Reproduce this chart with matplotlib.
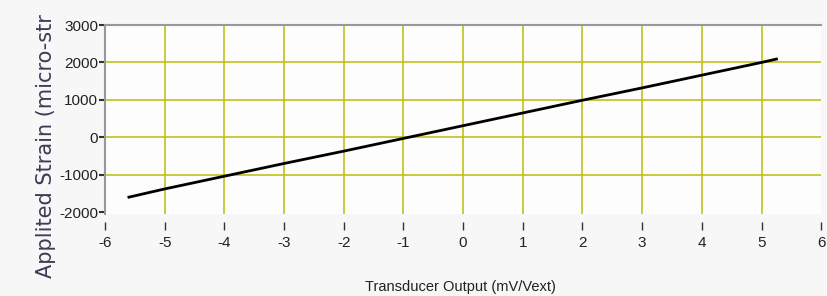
import matplotlib
matplotlib.use("Agg")
from matplotlib import pyplot as plt

# transducer output (mV/Vext) vs applied strain
xv = [-5.6, -5, -4, -3, -2, -1, 0, 1, 2, 3, 4, 5, 5.25]
yv = [-1600, -1380, -1040, -700, -370, -30, 310, 650, 990, 1320, 1660, 2000, 2090]

x_ticks = [-6, -5, -4, -3, -2, -1, 0, 1, 2, 3, 4, 5, 6]
y_ticks = [-2000, -1000, 0, 1000, 2000, 3000]

plt.rcParams["axes.unicode_minus"] = False
narrow = "Liberation Sans"

fig = plt.figure(figsize=(8.27, 2.96), dpi=100)
fig.patch.set_facecolor("#f7f7f7")
ax = fig.add_axes([0.127, 0.277, 0.866, 0.6385])
ax.set_facecolor("#fdfdfd")

grid_col = "#c2c21a"
for x in x_ticks[1:-1]:
    ax.axvline(x, color=grid_col, lw=1.2, zorder=1)
for y in y_ticks[1:-1]:
    ax.axhline(y, color=grid_col, lw=1.2, zorder=1)

ax.plot(xv, yv, color="black", lw=2, zorder=3)

ax.set_xlim(-6, 6)
ax.set_ylim(-2050, 3000)
ax.set_xticks(x_ticks)
ax.set_yticks(y_ticks)

for s in ["right", "bottom"]:
    ax.spines[s].set_visible(False)
for s in ["left", "top"]:
    ax.spines[s].set_color("#999999")
    ax.spines[s].set_linewidth(1.5)
ax.spines["bottom"].set_position(("outward", 6))

ax.tick_params(axis="x", direction="out", length=6, width=1, color="#333333", pad=4)
ax.tick_params(axis="y", direction="out", length=4, width=1.5, color="#333333", pad=1)
for lab in ax.get_xticklabels() + ax.get_yticklabels():
    lab.set_fontfamily(narrow)
    lab.set_fontsize(11)
    lab.set_color("#222222")

fig.text(460 / 827, 1 - 287 / 296, "Transducer Output (mV/Vext)", ha="center", va="center",
         fontsize=10.5, family=narrow, color="#222222")
fig.text(46 / 827, 1 - 278 / 296, "Applited Strain (micro-str", rotation=90,
         ha="center", va="bottom", fontsize=15, color="#3a3d55")

fig.savefig("out.png", dpi=100, facecolor=fig.get_facecolor())
